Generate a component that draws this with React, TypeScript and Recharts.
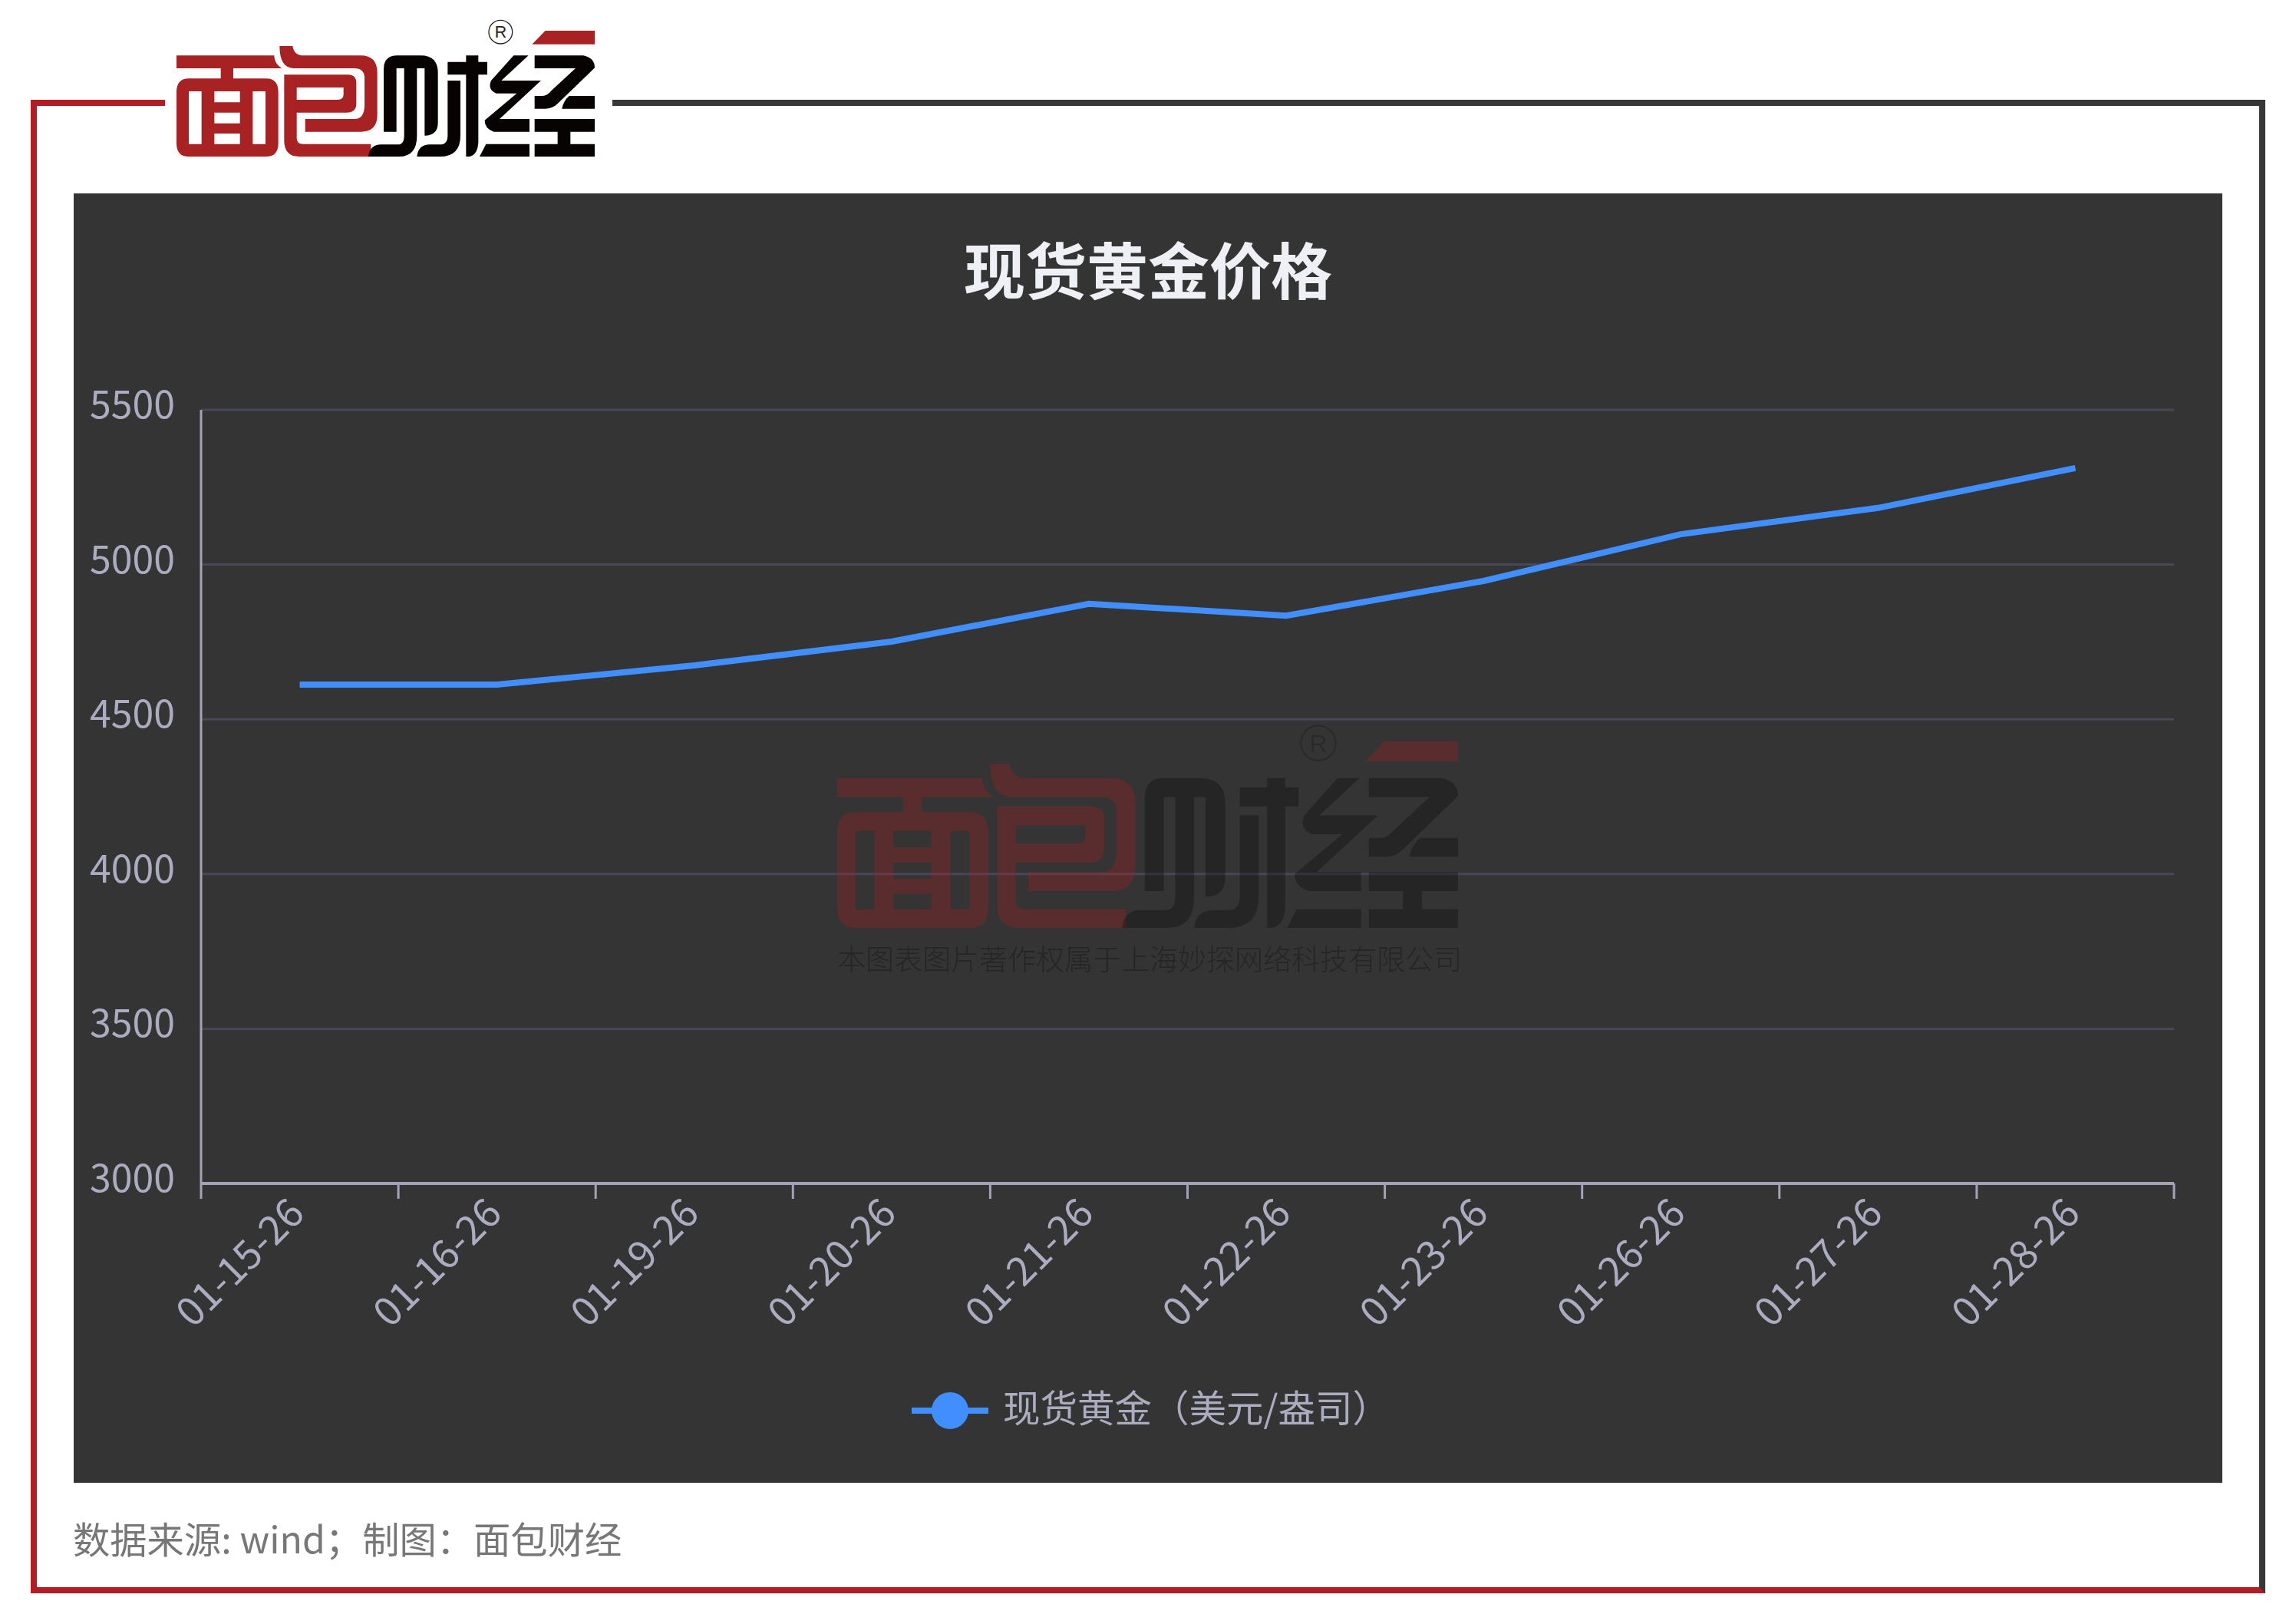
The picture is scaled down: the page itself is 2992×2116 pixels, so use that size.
import React from 'react';
import { LineChart, Line, XAxis, YAxis, CartesianGrid, Legend } from 'recharts';

const DATES = ['01-15-26', '01-16-26', '01-19-26', '01-20-26', '01-21-26', '01-22-26', '01-23-26', '01-26-26', '01-27-26', '01-28-26'];
const GOLD_PRICE = [4612, 4612, 4674, 4751, 4873, 4835, 4947, 5098, 5183, 5312];
const Y_TICKS = [3000, 3500, 4000, 4500, 5000, 5500];
const SERIES_NAME = '现货黄金（美元/盎司）';
const TITLE = '现货黄金价格';
const WATERMARK = '本图表图片著作权属于上海妙探网络科技有限公司';
const SOURCE = '数据来源: wind；制图：面包财经';

const FONT = '"Noto Sans CJK SC", "Noto Sans", sans-serif';
const LABEL_COLOR = '#acacc0';
const AXIS_COLOR = '#a3a3b8';
const GRID_COLOR = '#474757';
const LINE_COLOR = '#418fff';
const PANEL_BG = '#343434';
const FRAME_DARK = '#373737';
const FRAME_RED = '#b21c24';

const CHART_W = 2800;
const CHART_H = 1680;
const MARGIN = { top: 282, right: 63, left: 66, bottom: 290 };
const HALF_BAND = (CHART_W - MARGIN.left - 100 - MARGIN.right) / DATES.length / 2;

const chartData = DATES.map((date, i) => ({ date, price: GOLD_PRICE[i] }));

// logo traced by hand, 1710x570 box
const Logo: React.FC<{ style: React.CSSProperties; red: string; ink: string; ring: string }> = ({ style, red, ink, ring }) => (
  <svg viewBox="0 0 1710 570" style={{ position: 'absolute', ...style }}>
    <path
      fill={red}
      fillRule="evenodd"
      d="M30 157H412C412 180 425 197 442 207H252V247H380Q428 247 428 300V500Q428 552 380 552H78Q30 552 30 500V300Q30 247 78 247H203V207H30Z
         M78 297V503H128V297Z M328 297V503H378V297Z M178 297V340H278V297Z M178 380V422H278V380Z M178 462V503H278V462Z"
    />
    <path fill={red} d="M433 120H484Q490 157 525 157H750Q815 157 815 225V390Q815 455 750 455H533V405H725Q765 405 765 350V245Q765 207 725 207H490Q433 207 433 120Z" />
    <path
      fill={red}
      fillRule="evenodd"
      d="M451 232H700Q733 232 733 265V345Q733 380 695 380H500V480Q500 503 525 503H790V552H510Q451 552 451 490Z M500 282V330H660Q683 330 683 310V282Z"
    />
    <path fill={red} d="M1472 60H1665V113H1420Z" />
    <path fill={ink} d="M840 455V210Q840 157 890 157H985Q1052 157 1052 225V420Q1052 470 1000 470V207H970V470Q970 552 900 552H780Q785 505 830 505H895Q920 505 920 470V207H890V455Z" />
    <path fill={ink} d="M1162 157H1210V182H1245V232H1210V495Q1208 545 1175 552H1162V232H1090V182H1162Z" />
    <path fill={ink} d="M1090 255H1140V470Q1140 552 1060 552H970Q975 505 1020 505H1060Q1090 505 1090 470Z" />
    <path fill={ink} d="M1348 157H1406L1300 255H1455L1293 405H1410V455H1270Q1233 440 1235 410L1360 305H1280Q1245 290 1260 255Z" />
    <path fill={ink} d="M1240 503H1410V552H1215Z" />
    <path fill={ink} d="M1430 157H1620Q1665 165 1665 205L1520 345Q1500 365 1470 365H1430V315H1460Q1480 315 1495 295L1590 207H1430Z" />
    <path fill={ink} d="M1565 315H1665V365H1537Q1542 335 1565 315Z" />
    <path fill={ink} d="M1430 405H1665V455H1570V503H1665V552H1430V503H1520V455H1430Z" />
    <circle cx={1297} cy={65} r={46} fill="none" stroke={ring} strokeWidth={4} />
    <text x={1297} y={88} textAnchor="middle" fontSize={64} fontFamily="Liberation Sans" fill={ring}>R</text>
  </svg>
);

// ticks sit on the band edges, labels on the band centres
const XTick = ({ x, y, payload, index }: any) => (
  <g>
    <line x1={x - HALF_BAND} x2={x - HALF_BAND} y1={y} y2={y + 20} stroke={AXIS_COLOR} strokeWidth={3} />
    {index === DATES.length - 1 && (
      <line x1={x + HALF_BAND} x2={x + HALF_BAND} y1={y} y2={y + 20} stroke={AXIS_COLOR} strokeWidth={3} />
    )}
    <text
      x={0}
      y={0}
      transform={`translate(${x - 7},${y + 26}) rotate(-45)`}
      textAnchor="end"
      dominantBaseline="central"
      fontSize={52}
      fontFamily={FONT}
      fill={LABEL_COLOR}
    >
      {payload.value}
    </text>
  </g>
);

const YTick = ({ x, y, payload }: any) => (
  <text x={x - 34} y={y - 11} textAnchor="end" dominantBaseline="central" fontSize={50} fontFamily={FONT} fill={LABEL_COLOR}>
    {payload.value}
  </text>
);

const LegendContent = ({ payload }: any) => (
  <div style={{ display: 'flex', alignItems: 'center', height: 60, fontFamily: FONT, fontSize: 48.5, color: LABEL_COLOR, whiteSpace: 'nowrap' }}>
    {(payload || []).map((p: any) => (
      <React.Fragment key={p.value}>
        <svg width={100} height={50} style={{ marginRight: 19, marginTop: 6 }}>
          <line x1={0} x2={100} y1={25} y2={25} stroke={p.color} strokeWidth={8} />
          <circle cx={50} cy={25} r={24} fill={p.color} />
        </svg>
        <span style={{ position: 'relative', top: -3 }}>{p.value}</span>
      </React.Fragment>
    ))}
  </div>
);

const App: React.FC = () => (
  <div style={{ position: 'absolute', left: 0, top: 0, width: 2992, height: 2116, background: '#fff', overflow: 'hidden' }}>
    {/* frame */}
    <div
      style={{
        position: 'absolute', left: 40, top: 130, width: 2912, height: 1946, boxSizing: 'border-box',
        borderStyle: 'solid', borderWidth: 8,
        borderColor: `${FRAME_DARK} ${FRAME_DARK} ${FRAME_RED} ${FRAME_RED}`,
      }}
    />
    <div style={{ position: 'absolute', left: 40, top: 130, width: 175, height: 8, background: FRAME_RED }} />
    <div style={{ position: 'absolute', left: 215, top: 128, width: 583, height: 12, background: '#fff' }} />
    <Logo style={{ left: 220, top: 20, width: 570, height: 190 }} red="#a82224" ink="#070303" ring="#222" />

    {/* chart panel */}
    <div style={{ position: 'absolute', left: 96, top: 252, width: CHART_W, height: CHART_H, background: PANEL_BG }}>
      <div style={{ position: 'absolute', left: 0, width: CHART_W, top: 41, textAlign: 'center', fontFamily: FONT, fontWeight: 700, fontSize: 80, lineHeight: '110px', color: '#eef0f5' }}>
        {TITLE}
      </div>
      <LineChart width={CHART_W} height={CHART_H} data={chartData} margin={MARGIN}>
        <CartesianGrid vertical={false} stroke={GRID_COLOR} strokeWidth={3} />
        <XAxis
          dataKey="date"
          height={100}
          padding={{ left: HALF_BAND, right: HALF_BAND }}
          interval={0}
          tickSize={0}
          tickMargin={0}
          tickLine={false}
          axisLine={{ stroke: AXIS_COLOR, strokeWidth: 4 }}
          tick={<XTick />}
        />
        <YAxis
          width={100}
          domain={[3000, 5500]}
          ticks={Y_TICKS}
          interval={0}
          tickSize={0}
          tickMargin={0}
          tickLine={false}
          axisLine={{ stroke: AXIS_COLOR, strokeWidth: 3 }}
          tick={<YTick />}
        />
        <Legend
          verticalAlign="middle"
          content={<LegendContent />}
          wrapperStyle={{ left: 1092, top: 1553, width: 760, height: 60 }}
        />
        <Line
          type="linear"
          dataKey="price"
          name={SERIES_NAME}
          stroke={LINE_COLOR}
          strokeWidth={8}
          dot={false}
          activeDot={false}
          isAnimationActive={false}
        />
      </LineChart>
    </div>

    {/* watermark sits above the chart, grid shows through */}
    <Logo
      style={{ left: 1076, top: 936, width: 846.5, height: 282 }}
      red="rgba(168,34,36,0.33)"
      ink="rgba(0,0,0,0.27)"
      ring="rgba(0,0,0,0.2)"
    />
    <div style={{ position: 'absolute', left: 1091, top: 1222, width: 820, fontFamily: FONT, fontWeight: 300, fontSize: 37, lineHeight: '52px', color: 'rgba(0,0,0,0.3)', whiteSpace: 'nowrap' }}>
      {WATERMARK}
    </div>

    <div style={{ position: 'absolute', left: 95, top: 1968, fontFamily: FONT, fontSize: 48.3, lineHeight: '70px', color: '#777', whiteSpace: 'nowrap' }}>
      {SOURCE}
    </div>
  </div>
);

export default App;
